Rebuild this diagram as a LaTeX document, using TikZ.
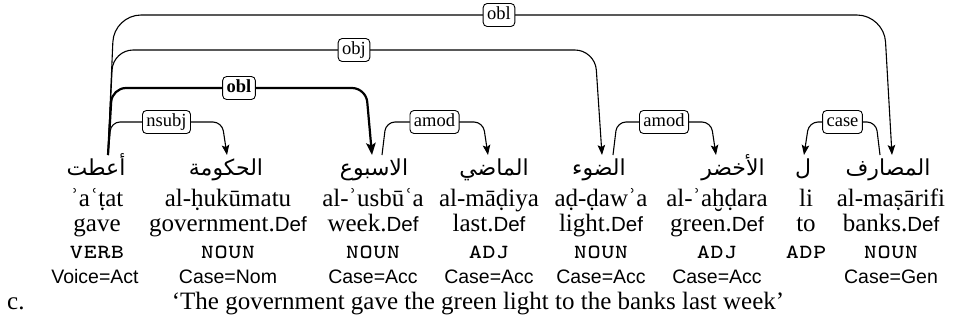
\documentclass[tikz,border=0pt]{standalone}
\usepackage{fontspec}
\setmainfont{Liberation Serif}
\setsansfont{Liberation Sans}
\newfontfamily\arabicfont[Script=Arabic]{DejaVu Sans}
\TeXXeTstate=1
\usetikzlibrary{calc,arrows.meta}
\newcommand\DefT{.{\fontsize{20.5}{22}\sffamily Def}}
\tikzset{
  ar/.style={font={\fontsize{22}{24}\arabicfont}, anchor=base, inner sep=0pt},
  tl/.style={font={\fontsize{25}{27}\selectfont}, anchor=base, inner sep=0pt},
  postag/.style={font={\fontsize{26}{28}\ttfamily\scshape}, anchor=base, inner sep=0pt},
  ft/.style={font={\fontsize{19.5}{22}\sffamily}, anchor=base, inner sep=0pt},
  dep/.style={line width=1.1pt, -{Stealth[length=10pt,width=7.5pt,inset=2pt]}},
  depbold/.style={line width=2.2pt, -{Stealth[length=12pt,width=9.5pt,inset=2.5pt]}},
  lbl/.style={draw, fill=white, solid, line width=0.9pt, rounded corners=4pt,
    inner xsep=4pt, inner ysep=3pt, text height=13pt, text depth=4pt,
    font={\fontsize{18.5}{20}\selectfont}},
}
\begin{document}
\begin{tikzpicture}[x=1pt,y=-1pt]
\useasboundingbox (0,0) rectangle (958,325);
% edge anchors above words
\coordinate (w1) at (97,155);
\coordinate (w2) at (227,155);
\coordinate (w3) at (372,155);
\coordinate (w4) at (488,155);
\coordinate (w5) at (602,155);
\coordinate (w6) at (716,155);
\coordinate (w7) at (804,155);
\coordinate (w8) at (892,155);
% Arabic words
\node[ar] (a1) at (96,175) {\beginR أعطت\endR};
\node[ar] (a2) at (226,175) {\beginR الحكومة\endR};
\node[ar] (a3) at (374,175) {\beginR الاسبوع\endR};
\node[ar] (a4) at (494,175) {\beginR الماضي\endR};
\node[ar] (a5) at (599,175) {\beginR الضوء\endR};
\node[ar] (a6) at (733,175) {\beginR الأخضر\endR};
\node[ar] (a7) at (803,175) {\beginR ل\endR};
\node[ar] (a8) at (888,175) {\beginR المصارف\endR};
% transliteration
\node[tl] (t1) at (97,206) {ʾaʿṭat};
\node[tl] (t2) at (228,206) {al-ḥukūmatu};
\node[tl] (t3) at (373,206) {al-ʾusbūʿa};
\node[tl] (t4) at (489,206) {al-māḍiya};
\node[tl] (t5) at (601,206) {aḍ-ḍawʾa};
\node[tl] (t6) at (717,206) {al-ʾaḫḍara};
\node[tl] (t7) at (806,206) {li};
\node[tl] (t8) at (891,206) {al-maṣārifi};
% glosses
\node[tl] (g1) at (97,231) {gave};
\node[tl] (g2) at (228,231) {government\DefT};
\node[tl] (g3) at (373,231) {week\DefT};
\node[tl] (g4) at (489,231) {last\DefT};
\node[tl] (g5) at (601,231) {light\DefT};
\node[tl] (g6) at (717,231) {green\DefT};
\node[tl] (g7) at (806,231) {to};
\node[tl] (g8) at (891,231) {banks\DefT};
% POS
\node[postag] (p1) at (97,258) {verb};
\node[postag] (p2) at (228,258) {noun};
\node[postag] (p3) at (373,258) {noun};
\node[postag] (p4) at (489,258) {adj};
\node[postag] (p5) at (601,258) {noun};
\node[postag] (p6) at (717,258) {adj};
\node[postag] (p7) at (806,258) {adp};
\node[postag] (p8) at (891,258) {noun};
% features
\node[ft] (f1) at (95,283) {Voice=Act};
\node[ft] (f2) at (228,283) {Case=Nom};
\node[ft] (f3) at (373,283) {Case=Acc};
\node[ft] (f4) at (489,283) {Case=Acc};
\node[ft] (f5) at (601,283) {Case=Acc};
\node[ft] (f6) at (717,283) {Case=Acc};
\node[ft] (f8) at (891,283) {Case=Gen};
% example letter and translation
\node[tl, anchor=base west] (ex) at (7,309) {c.};
\node[tl] (tr) at (478,309) {‘The government gave the green light to the banks last week’};
% dependency arcs
\draw[dep, rounded corners=27pt] ($(w1)+(11,0)$) -- ($(w1)+(17,-140)$)
  -- node[lbl]{obl} ($(w8)+(-8,-140)$) -- (w8);
\draw[dep, rounded corners=20pt] ($(w1)+(11,0)$) -- ($(w1)+(16,-105)$)
  -- node[lbl]{obj} ($(w5)+(-7,-105)$) -- (w5);
\draw[depbold, rounded corners=14pt] ($(w1)+(11,0)$) -- ($(w1)+(15,-67)$)
  -- node[lbl]{\bfseries obl} ($(w3)+(-6,-67)$) -- (w3);
\draw[dep, rounded corners=9pt] ($(w1)+(11,0)$) -- ($(w1)+(14,-33)$)
  -- node[lbl]{nsubj} ($(w2)+(-5,-33)$) -- (w2);
\draw[dep, rounded corners=9pt] ($(w3)+(10,0)$) -- ($(w3)+(14,-33)$)
  -- node[lbl]{amod} ($(w4)+(-5,-33)$) -- (w4);
\draw[dep, rounded corners=9pt] ($(w5)+(11,0)$) -- ($(w5)+(15,-33)$)
  -- node[lbl]{amod} ($(w6)+(-5,-33)$) -- (w6);
\draw[dep, rounded corners=9pt] ($(w8)+(-12,0)$) -- ($(w8)+(-16,-33)$)
  -- node[lbl]{case} ($(w7)+(5,-33)$) -- (w7);
\end{tikzpicture}
\end{document}
